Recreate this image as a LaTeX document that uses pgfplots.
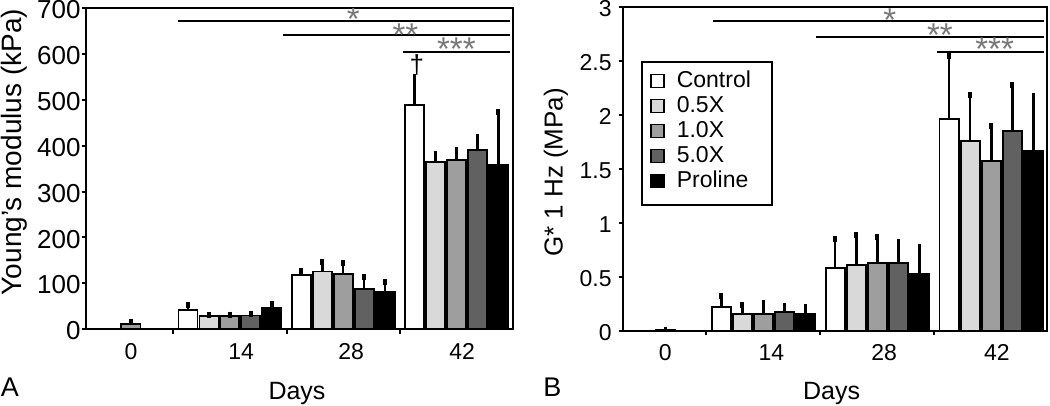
\documentclass[border=0pt]{standalone}
\usepackage{fontspec}
\setmainfont{Liberation Sans}
\usepackage{pgfplots}
\pgfplotsset{compat=1.18}
\definecolor{cA}{RGB}{255,255,255}
\definecolor{cB}{RGB}{217,217,217}
\definecolor{cC}{RGB}{158,158,158}
\definecolor{cD}{RGB}{97,97,97}
\definecolor{cE}{RGB}{0,0,0}
\definecolor{stargray}{RGB}{120,120,120}
\tikzset{sigstar/.style={text=stargray, font=\fontsize{16.5}{16}\selectfont, yshift=-2.6pt, inner sep=0pt}}
\pgfplotsset{
  mybar/.style={ybar, bar width=0.168, bar shift=0, draw=black, line width=0.95pt, fill=#1,
    error bars/y dir=plus, error bars/y explicit,
    error bars/error bar style={line width=1.3pt, black, solid},
    error bars/error mark options={mark size=1.5pt, line width=1.8pt, black, solid}},
  myaxis/.style={
    scale only axis, anchor=south west,
    axis line style={line width=1pt},
    tick align=outside, xtick pos=bottom, ytick pos=left,
    major tick length=2.2pt,
    tick style={black, line width=1pt},
    xtick={0.5,1.5,2.5}, xticklabels={},
    extra x tick style={major tick length=0pt},
    extra x tick labels={0,14,28,42},
    /pgf/number format/assume math mode=true,
    xticklabel style={font=\fontsize{11.5}{12}\selectfont, yshift=-3.5pt},
    ymin=0, clip=true,
  },
  sig/.style={black, line width=0.9pt},
}
\begin{document}
\begin{tikzpicture}
\useasboundingbox (0,0) rectangle (525pt,203pt);
% ---------------- Panel A ----------------
% bar positions: day group g -> Control g-0.37, 0.5X g-0.185, 1.0X g, 5.0X g+0.185, Proline g+0.37
\begin{axis}[myaxis, at={(43pt,38.35pt)}, width=213.5pt, height=160.65pt,
  xmin=-0.271, xmax=3.5, ymax=700,
  extra x ticks={0.126,1.10,2.07,3.05},
  ytick={0,100,200,300,400,500,600,700},
  yticklabels={0,100,200,300,400,500,600,700},
  yticklabel style={font=\fontsize{13}{13}\selectfont, inner sep=0pt, xshift=-0.3pt, yshift=-0.8pt},
]
\addplot[mybar=cA] coordinates {(0.63,42) +- (0,11) (1.63,119) +- (0,9) (2.63,489) +- (0,60)};
\addplot[mybar=cB] coordinates {(0.815,28) +- (0,3) (1.815,126) +- (0,21) (2.815,365) +- (0,18)};
\addplot[mybar=cC] coordinates {(0.126,11) +- (0,5) (1,28) +- (0,4) (2,120.5) +- (0,24.5) (3,369.5) +- (0,21)};
\addplot[mybar=cD] coordinates {(1.185,30) +- (0,3) (2.185,87) +- (0,27) (3.185,390.6) +- (0,27.4)};
\addplot[mybar=cE] coordinates {(1.37,46) +- (0,9) (2.37,82) +- (0,21) (3.37,358) +- (0,115)};
\addplot[sig] coordinates {(0.54,672) (3.47,672)};
\addplot[sig] coordinates {(1.47,642) (3.47,642)};
\addplot[sig] coordinates {(2.53,605) (3.47,605)};
\node[sigstar] at (axis cs:2.09,687) {*};
\node[sigstar] at (axis cs:2.55,652) {**};
\node[sigstar] at (axis cs:3.0,621) {***};
\node[font=\fontsize{13}{13}\selectfont] at (axis cs:2.65,576) {†};
\end{axis}
% ---------------- Panel B ----------------
\begin{axis}[myaxis, at={(311.5pt,37.65pt)}, width=212pt, height=161.85pt,
  xmin=-0.232, xmax=3.49, ymax=3,
  extra x ticks={0.14,1.07,2.06,3.05},
  ytick={0,0.5,1,1.5,2,2.5,3},
  yticklabels={0,0.5,1,1.5,2,2.5,3},
  yticklabel style={font=\fontsize{11.5}{12}\selectfont, inner sep=0pt, xshift=-3.3pt, yshift=-0.8pt},
  legend cell align=left,
  legend image code/.code={\draw[#1, draw=black, line width=0.7pt] (0pt,-3.25pt) rectangle (6.5pt,3.25pt);},
  legend style={at={(0.0448,0.830)}, anchor=north west, draw=none, fill=none,
    font=\fontsize{11.5}{12}\selectfont, inner xsep=4pt, inner ysep=3pt,
    column sep=5pt, row sep=0pt,
    nodes={inner sep=1pt, text height=8.3pt, text depth=2.2pt}},
]
\addplot[mybar=cA] coordinates {(0.63,0.222) +- (0,0.102) (1.63,0.578) +- (0,0.272) (2.63,1.962) +- (0,0.587)};
\addlegendentry{Control}
\addplot[mybar=cB] coordinates {(0.815,0.154) +- (0,0.084) (1.815,0.609) +- (0,0.275) (2.815,1.761) +- (0,0.423)};
\addlegendentry{0.5X}
\addplot[mybar=cC] coordinates {(0.14,0.003) +- (0,0.008) (1,0.154) +- (0,0.106) (2,0.627) +- (0,0.238) (3,1.576) +- (0,0.318)};
\addlegendentry{1.0X}
\addplot[mybar=cD] coordinates {(1.185,0.173) +- (0,0.056) (2.185,0.630) +- (0,0.189) (3.185,1.851) +- (0,0.423)};
\addlegendentry{5.0X}
\addplot[mybar=cE] coordinates {(1.37,0.154) +- (0,0.065) (2.37,0.522) +- (0,0.256) (3.37,1.668) +- (0,0.510)};
\addlegendentry{Proline}
\addplot[sig, forget plot] coordinates {(0.56,2.873) (3.46,2.873)};
\addplot[sig, forget plot] coordinates {(1.46,2.725) (3.46,2.725)};
\addplot[sig, forget plot] coordinates {(2.52,2.586) (3.46,2.586)};
\node[sigstar] at (axis cs:2.11,2.93) {*};
\node[sigstar] at (axis cs:2.55,2.79) {**};
\node[sigstar] at (axis cs:3.03,2.657) {***};
% legend frame
\draw[black, line width=0.8pt] (rel axis cs:0.0448,0.830) rectangle (rel axis cs:0.351,0.388);
\end{axis}
% ---------------- outer labels ----------------
\node[rotate=90, inner sep=0pt, font=\fontsize{14}{14}\selectfont] at (7pt,127pt) {Young’s modulus (kPa)};
\node[rotate=90, inner sep=0pt, font=\fontsize{13}{13}\selectfont] at (278pt,116.8pt) {G* 1 Hz (MPa)};
\node[anchor=base, inner sep=0pt, font=\fontsize{12.5}{13}\selectfont] at (148.5pt,3pt) {Days};
\node[anchor=base, inner sep=0pt, font=\fontsize{12.5}{13}\selectfont] at (415.8pt,3pt) {Days};
\node[anchor=base west, inner sep=0pt, font=\fontsize{13.5}{14}\selectfont] at (0.3pt,4.5pt) {A};
\node[anchor=base west, inner sep=0pt, font=\fontsize{13.5}{14}\selectfont] at (271.5pt,4.5pt) {B};
\end{tikzpicture}
\end{document}
